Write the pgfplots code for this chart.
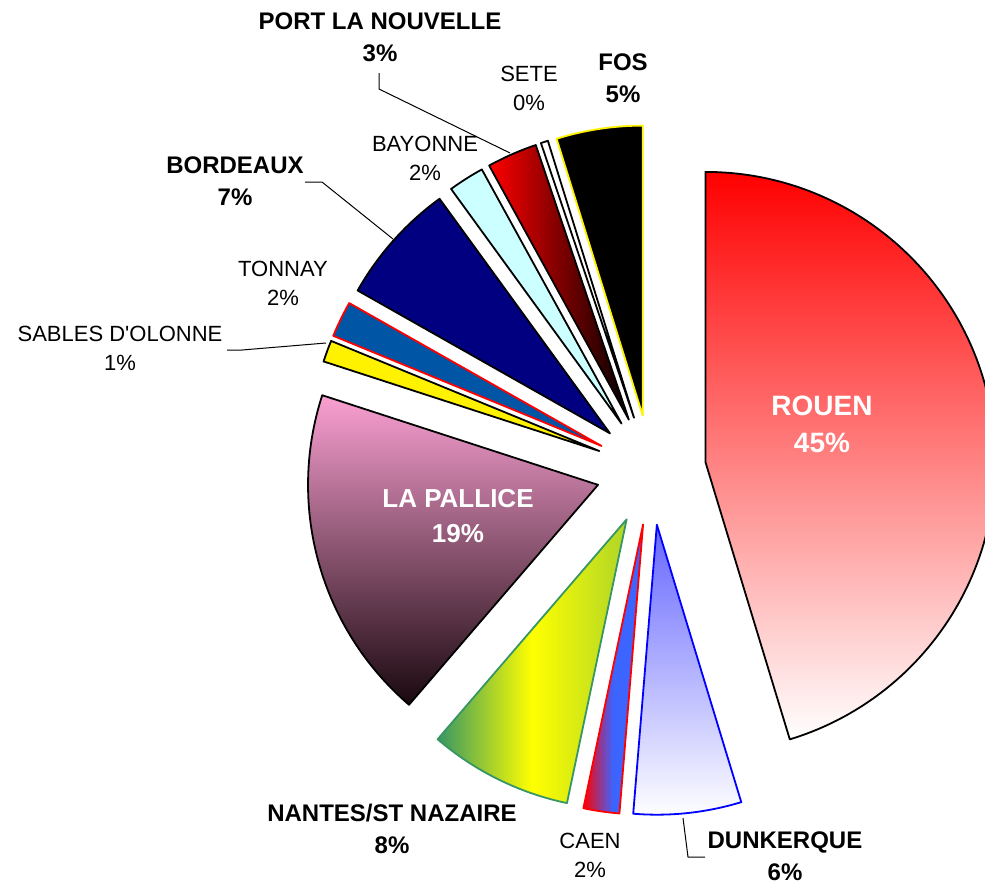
\documentclass[border=0pt]{standalone}
\usepackage{pgfplots}
\pgfplotsset{compat=1.18}
\usepackage{pgfplotstable}
\usepackage{fontspec}
\setmainfont{Liberation Sans}

% share of each port, clockwise from 12 o'clock
\pgfplotstableread{
name value
ROUEN 45.3
DUNKERQUE 6.0
CAEN 2.0
NANTES 8.0
LAPALLICE 18.7
SABLES 1.2
TONNAY 2.0
BORDEAUX 6.8
BAYONNE 2.0
PLN 2.8
SETE 0.4
FOS 4.8
}\piedata

\definecolor{ngreen}{RGB}{55,150,100}
\definecolor{pinky}{RGB}{250,160,210}
\definecolor{darkp}{RGB}{25,8,14}
\definecolor{caenblue}{RGB}{60,100,255}
\definecolor{tonnay}{RGB}{0,85,165}
\definecolor{navy}{RGB}{0,0,128}
\definecolor{cyanl}{RGB}{204,255,255}

\tikzset{
  slice0/.style={draw=black, top color=red, bottom color=white},
  slice1/.style={draw=blue, top color=blue!60, bottom color=white},
  slice2/.style={draw=red, left color=red, right color=caenblue, middle color=caenblue},
  slice3/.style={draw=ngreen, left color=ngreen, right color=ngreen!40!yellow, middle color=yellow},
  slice4/.style={draw=black, top color=pinky, bottom color=darkp},
  slice5/.style={draw=black, fill=yellow},
  slice6/.style={draw=red, fill=tonnay},
  slice7/.style={draw=black, fill=navy},
  slice8/.style={draw=black, fill=cyanl},
  slice9/.style={draw=black, left color=red, right color=black},
  slice10/.style={draw=black, fill=white},
  slice11/.style={draw=yellow, fill=black},
  lbl/.style={align=center, font=\fontsize{11}{14.5}\selectfont},
  blbl/.style={align=center, font=\fontsize{12}{16}\selectfont\bfseries},
}

\begin{document}
\begin{tikzpicture}
\begin{axis}[
    hide axis,
    scale only axis,
    width=492.5pt, height=442.5pt,
    xmin=0, xmax=985, ymin=0, ymax=885,
    y dir=reverse,
    clip=false,
]
\addplot[draw=none] coordinates {(0,0) (985,885)};

\def\cum{0}
\pgfplotsforeachungrouped \i in {0,...,11}{
  \pgfplotstablegetelem{\i}{value}\of\piedata
  \let\val=\pgfplotsretval
  \pgfmathsetmacro\va{90-3.6*\cum}
  \pgfmathsetmacro\vb{\va-3.6*\val}
  \pgfmathsetmacro\cum{\cum+\val}
  \pgfmathsetmacro\vm{(\va+\vb)/2}
  \pgfmathsetmacro\px{651+55*cos(\vm)}
  \pgfmathsetmacro\py{470-55*sin(\vm)}
  \edef\temp{\noexpand\draw[slice\i, line width=0.9pt, line join=round]
    (axis cs:\px,\py) -- ++(\va:145pt)
    arc[start angle=\va, end angle=\vb, radius=145pt] -- cycle;}
  \temp
}

% leader lines
\draw[line width=0.5pt] (axis cs:379,73) -- (axis cs:379,89) -- (axis cs:510,153);
\draw[line width=0.5pt] (axis cs:305,182) -- (axis cs:322,182) -- (axis cs:393,239);
\draw[line width=0.5pt] (axis cs:227,350) -- (axis cs:242,350) -- (axis cs:326,343);
\draw[line width=0.5pt] (axis cs:683,818) -- (axis cs:688,857) -- (axis cs:705,857);

% labels
\node[blbl] at (axis cs:380,37) {PORT LA NOUVELLE\\3\%};
\node[lbl] at (axis cs:529,88) {SETE\\0\%};
\node[blbl] at (axis cs:623,78) {FOS\\5\%};
\node[lbl] at (axis cs:425,158) {BAYONNE\\2\%};
\node[blbl] at (axis cs:235,181) {BORDEAUX\\7\%};
\node[lbl] at (axis cs:283,283) {TONNAY\\2\%};
\node[lbl] at (axis cs:120,348) {SABLES D\textquotesingle OLONNE\\1\%};
\node[align=center, white, font=\fontsize{14}{18.5}\selectfont\bfseries] at (axis cs:822,424) {ROUEN\\45\%};
\node[align=center, white, font=\fontsize{13}{17.5}\selectfont\bfseries] at (axis cs:458,516) {LA PALLICE\\19\%};
\node[blbl] at (axis cs:392,829) {NANTES/ST NAZAIRE\\8\%};
\node[lbl] at (axis cs:590,855) {CAEN\\2\%};
\node[blbl] at (axis cs:785,856) {DUNKERQUE\\6\%};
\end{axis}
\pgfresetboundingbox
\path (current axis.south west) rectangle (current axis.north east);
\end{tikzpicture}
\end{document}
